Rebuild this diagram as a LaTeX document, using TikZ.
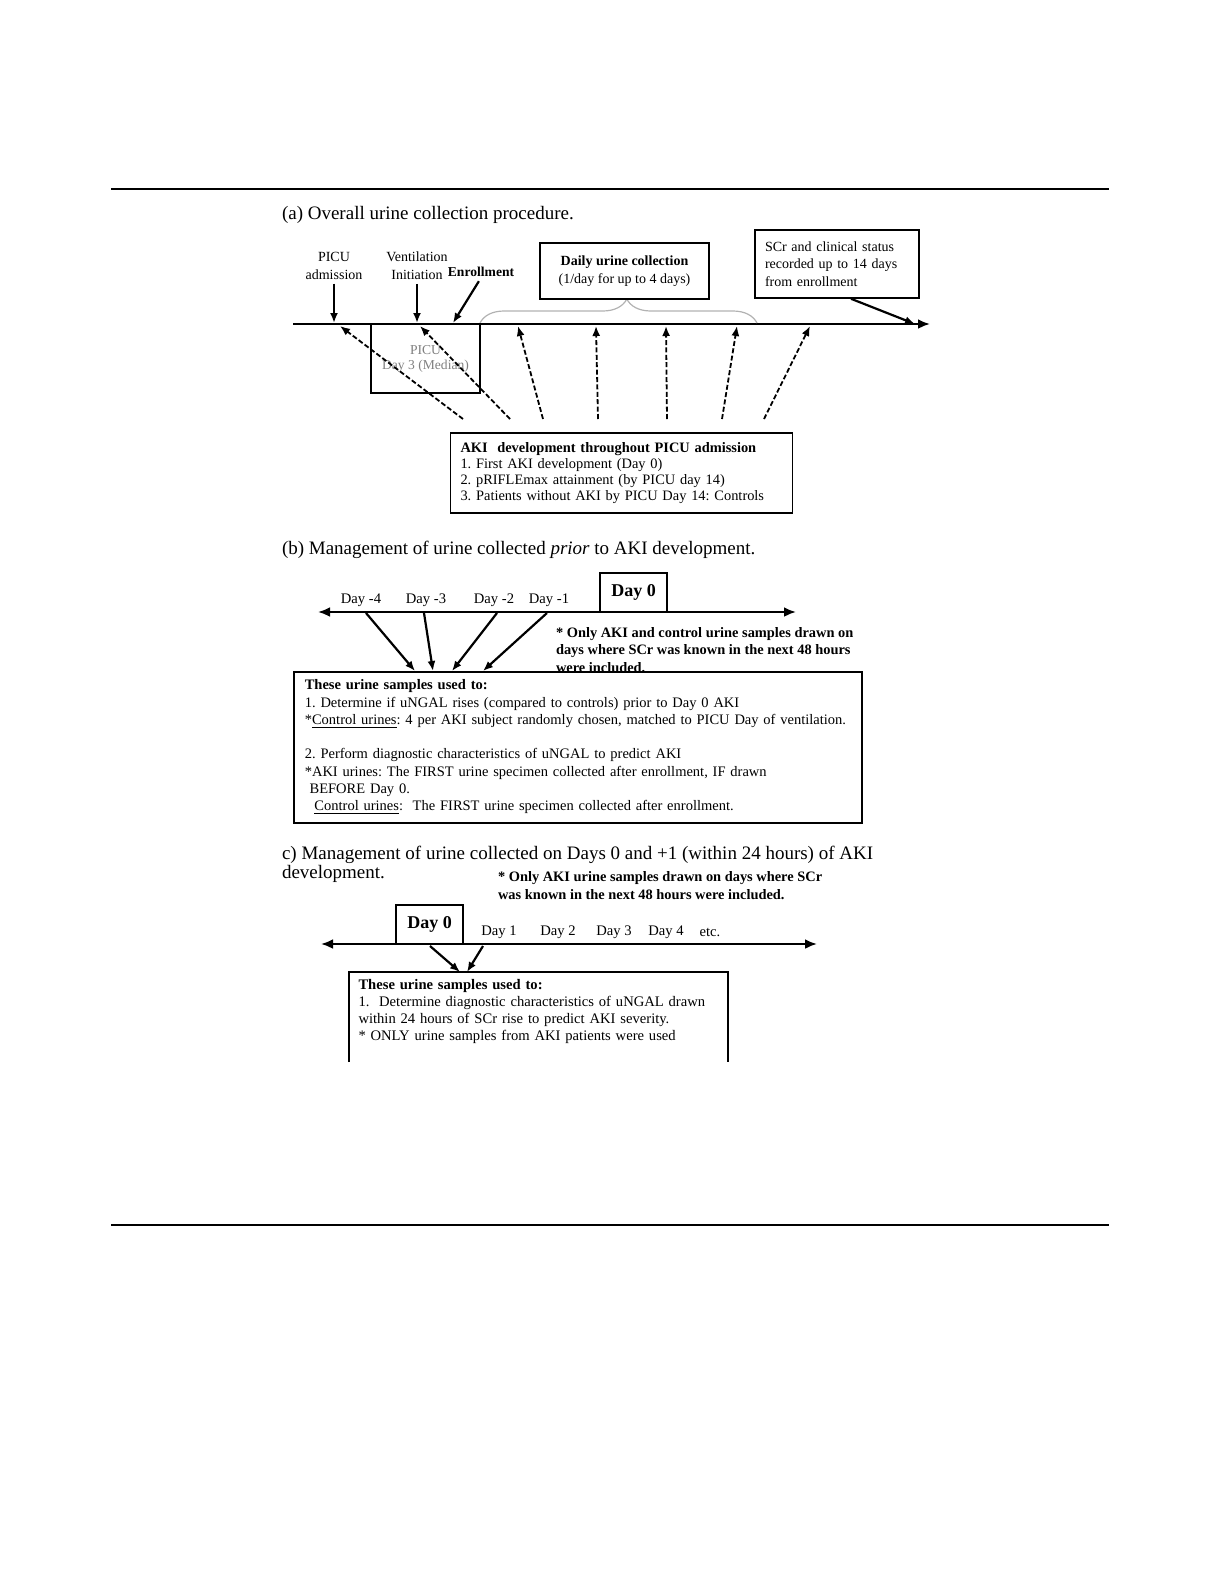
\documentclass[tikz,border=0pt]{standalone}
\usepackage{fontspec}
\setmainfont{Liberation Serif}
\usetikzlibrary{arrows.meta, calc, decorations.pathreplacing}
\frenchspacing

\begin{document}
\begin{tikzpicture}[x=0.5pt, y=-0.5pt, line width=1pt,
    title/.style={anchor=west, inner sep=0pt, align=left, font=\fontsize{9.5}{8.6}\selectfont},
    lbl/.style={inner sep=0pt, align=center, font=\fontsize{7}{9}\selectfont},
    daylbl/.style={inner sep=0pt, font=\fontsize{7.3}{9}\selectfont},
    note/.style={anchor=west, inner sep=0pt, align=left, font=\bfseries\fontsize{7.2}{8.6}\selectfont},
    frame/.style={draw, line width=0.8pt},
    dayzero/.style={frame, minimum width=33.5pt, minimum height=19.5pt, inner sep=0pt, font=\bfseries\fontsize{9}{10}\selectfont},
    axis/.style={line width=1.4pt},
    tip/.tip={Latex[length=5pt, width=4pt]},
    pointer/.style={line width=1.1pt, -tip},
    dashptr/.style={line width=0.9pt, dash pattern=on 2.5pt off 1.2pt, -tip}]
    \useasboundingbox (0,0) rectangle (1221,1585);
    \draw (111,189) -- (1109,189);
    \draw (111,1225) -- (1109,1225);

    % (a)
    \node[title] (ttla) at (281,215) {(a) Overall urine collection procedure.};
    \coordinate (axa0) at (293,324);
    \coordinate (axa1) at (930,324);
    \draw[axis, -{Latex[length=6pt, width=5pt]}] (axa0) -- (axa1);
    \node[lbl] (adm) at (334,266) {PICU\\admission};
    \node[lbl] (vent) at (417,266) {Ventilation\\Initiation};
    \node[lbl, font=\bfseries\fontsize{6.8}{9}\selectfont] (enr) at (481,272) {Enrollment};
    \coordinate (padm) at (334,323);
    \coordinate (pvent) at (417,323);
    \coordinate (penr) at (453,323);
    \draw[pointer, shorten <=1.5pt] (adm.south) -- (padm);
    \draw[pointer, shorten <=1.5pt] (vent.south) -- (pvent);
    \draw[pointer, shorten <=2pt] (enr.south) -- (penr);
    \draw[gray!60, line width=0.6pt, decorate, decoration={brace, amplitude=12pt, aspect=0.53}] (480,323) -- (757,323);
    \node[frame, fill=white, minimum width=84.5pt, minimum height=28pt, align=center, font=\fontsize{7}{9}\selectfont] (daily) at (624.5,271) {\textbf{Daily urine collection}\\(1/day for up to 4 days)};
    \node[frame, text width=72pt, inner xsep=5pt, minimum height=34pt, align=left, font=\fontsize{7}{8.75}\selectfont] (scr) at (837,264) {SCr and clinical status\\recorded up to 14 days\\from enrollment};
    \coordinate (pscr) at (915,324);
    \draw[pointer] (scr.-68) -- (pscr);
    \node[frame, line width=0.7pt, minimum width=54.5pt, minimum height=34.5pt, align=center, text=gray, font=\fontsize{6.8}{7.5}\selectfont] (med) at (425.5,358.5) {PICU\\Day 3 (Median)};
    \node[frame, text width=161pt, inner xsep=5pt, minimum height=40pt, align=left, font=\fontsize{7.2}{8}\selectfont] (aki) at (621.5,473) {\textbf{AKI\ \ development throughout PICU admission}\\1. First AKI development (Day 0)\\2. pRIFLEmax attainment (by PICU day 14)\\3. Patients without AKI by PICU Day 14: Controls};
    \foreach \sx/\tx [count=\i] in {463/340, 510/420, 543/518, 598/596, 667/666, 722/737, 764/810} {
        \coordinate (srca\i) at (\sx,419);
        \coordinate (tipa\i) at (\tx,326);
        \draw[dashptr] (srca\i) -- (tipa\i);
    }

    % (b)
    \node[title] (ttlb) at (281,550) {(b) Management of urine collected \textit{prior} to AKI development.};
    \coordinate (axb0) at (318,612);
    \coordinate (axb1) at (796,612);
    \draw[axis, {Latex[length=6pt, width=5pt]}-{Latex[length=6pt, width=5pt]}] (axb0) -- (axb1);
    \foreach \x/\d [count=\i] in {361/-4, 426/-3, 494/-2, 549/-1}
        \node[daylbl] (dayb\i) at (\x,600) {Day \d};
    \node[dayzero] (dzb) at (633.5,592.5) {Day 0};
    \node[note] (noteb) at (555,650) {* Only AKI and control urine samples drawn on\\days where SCr was known in the next 48 hours\\were included.};
    \node[frame, fill=white, anchor=north west, text width=273pt, inner xsep=5.5pt, inner ysep=0pt, minimum height=75.5pt, align=left, font=\fontsize{7.25}{8.65}\selectfont] (useb) at (293,671) {\textbf{These urine samples used to:}\\
        1. Determine if uNGAL rises (compared to controls) prior to Day 0 AKI\\
        {*}\underline{Control urines}: 4 per AKI subject randomly chosen, matched to PICU Day of ventilation.\\
        ~\\
        2. Perform diagnostic characteristics of uNGAL to predict AKI\\
        {*}AKI urines: The FIRST urine specimen collected after enrollment, IF drawn\\
        \ BEFORE Day 0.\\
        \ \ \underline{Control urines}:\ \ The FIRST urine specimen collected after enrollment.};
    \foreach \sx/\tx [count=\i] in {366/415, 424/433, 497/452, 547/483} {
        \coordinate (fromb\i) at (\sx,613);
        \coordinate (tob\i) at (\tx,671);
        \draw[pointer] (fromb\i) -- (tob\i);
    }

    % (c)
    \node[title] (ttlc) at (281,864) {c) Management of urine collected on Days 0 and +1 (within 24 hours) of AKI\\development.};
    \node[note, font=\bfseries\fontsize{7.2}{9}\selectfont] (notec) at (497,886) {* Only AKI urine samples drawn on days where SCr\\was known in the next 48 hours were included.};
    \coordinate (axc0) at (321,944);
    \coordinate (axc1) at (817,944);
    \draw[axis, {Latex[length=6pt, width=5pt]}-{Latex[length=6pt, width=5pt]}] (axc0) -- (axc1);
    \node[dayzero] (dzc) at (429.5,924.5) {Day 0};
    \foreach \x/\d [count=\i] in {499/Day 1, 558/Day 2, 614/Day 3, 666/Day 4, 710/etc.}
        \node[daylbl] (dayc\i) at (\x,932) {\d};
    \node[anchor=north west, text width=180pt, inner xsep=4.25pt, inner ysep=3pt, align=left, font=\fontsize{7.3}{8.5}\selectfont] (usec) at (349,972) {\textbf{These urine samples used to:}\\
        1.\ \ Determine diagnostic characteristics of uNGAL drawn\\
        within 24 hours of SCr rise to predict AKI severity.\\
        {*} ONLY urine samples from AKI patients were used};
    \coordinate (cend) at (349,1062);
    \draw[frame] (usec.north west |- cend) -- (usec.north west) -- (usec.north east) -- (usec.north east |- cend);
    \foreach \sx/\tx [count=\i] in {430/460, 483/467} {
        \coordinate (fromc\i) at (\sx,946);
        \coordinate (toc\i) at (\tx,972);
        \draw[pointer] (fromc\i) -- (toc\i);
    }
\end{tikzpicture}
\end{document}
